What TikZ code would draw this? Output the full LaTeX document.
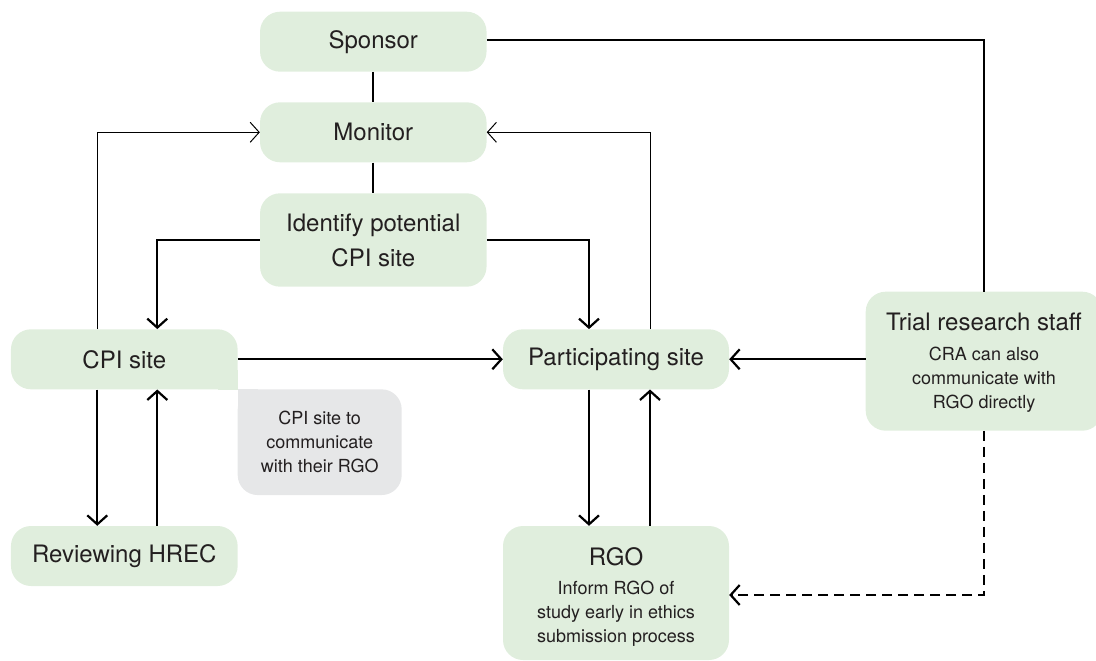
\documentclass[tikz,border=0pt]{standalone}
\usepackage{fontspec}
\setmainfont{TeX Gyre Heros}
\usetikzlibrary{arrows.meta}
\definecolor{boxgreen}{HTML}{E0EEDD}
\definecolor{notegrey}{HTML}{E6E7E8}
\definecolor{ink}{HTML}{231F20}

\begin{document}
\begin{tikzpicture}[x=1pt,y=-1pt,
  box/.style={fill=boxgreen, rounded corners=20pt, inner sep=0pt, text=ink,
              font=\fontsize{24}{35}\selectfont, align=center},
  notebox/.style={fill=notegrey, rounded corners=20pt, inner sep=0pt, text=ink,
              font=\fontsize{18}{24}\selectfont, align=center},
  titletext/.style={text=ink, inner sep=0pt, font=\fontsize{24}{29}\selectfont},
  bodytext/.style={text=ink, inner sep=0pt, align=center, font=\fontsize{18}{24}\selectfont},
  link/.style={draw=black, line width=2.2pt},
  thinlink/.style={draw=black, line width=1pt},
  arr/.style={-{Straight Barb[length=9pt,width=20pt]}},
  dashline/.style={dash pattern=on 10pt off 6pt}
]
\useasboundingbox (0,0) rectangle (1096,661);

% boxes
\node[box, minimum width=226.5pt, minimum height=60pt] (sponsor) at (373.3,41.7) {Sponsor};
\node[box, minimum width=226.5pt, minimum height=60pt] (monitor) at (373.3,132.3) {Monitor};
\node[box, minimum width=226.5pt, minimum height=93.4pt] (identify) at (373.3,240) {Identify potential\\CPI site};
\node[box, minimum width=226.7pt, minimum height=60pt] (cpi) at (124.3,359.3) {CPI site};
\node[box, minimum width=226.7pt, minimum height=60pt] (hrec) at (124.3,556) {Reviewing HREC};
\node[box, minimum width=226pt, minimum height=60pt] (part) at (616,359.3) {Participating site};
\node[box, minimum width=226pt, minimum height=134pt] (rgo) at (616,593) {};
\node[titletext] (rgotitle) at (616,557) {RGO};
\node[bodytext] (rgobody) at (616,614) {Inform RGO of\\study early in ethics\\submission process};
\node[box, minimum width=236.6pt, minimum height=139pt] (trial) at (984,361.2) {};
\node[titletext] (trialtitle) at (984,321.5) {Trial research staff};
\node[bodytext] (trialbody) at (984,380) {CRA can also\\communicate with\\RGO directly};
\node[notebox, minimum width=164pt, minimum height=105.7pt] (note) at (319.7,442.2) {CPI site to\\communicate\\with their RGO};

% square corners where the CPI box meets the note
\fill[boxgreen] (cpi.south east) rectangle ++(-20,-20);
\fill[notegrey] (note.north west) rectangle ++(20,20);

% connectors
\draw[link] (sponsor) -- (monitor);
\draw[link] (monitor) -- (identify);
\draw[link] ([yshift=2pt]sponsor.east) -| (trial.north);
\draw[thinlink, arr] ([xshift=-27pt]cpi.north) |- (monitor.west);
\draw[thinlink, arr] ([xshift=34pt]part.north) |- (monitor.east);
\draw[link, arr] (identify.west) -| ([xshift=33pt]cpi.north);
\draw[link, arr] (identify.east) -| ([xshift=-27pt]part.north);
\draw[link, arr] (cpi.east) -- (cpi.east -| part.west);
\draw[link, arr] (trial.west |- part.east) -- (part.east);
\draw[link, arr] ([xshift=-27pt]cpi.south) -- ([xshift=-27pt]hrec.north);
\draw[link, arr] ([xshift=33pt]hrec.north) -- ([xshift=33pt]cpi.south);
\draw[link, arr] ([xshift=-27pt]part.south) -- ([xshift=-27pt]rgo.north);
\draw[link, arr] ([xshift=34pt]rgo.north) -- ([xshift=34pt]part.south);
\draw[link, arr, dashline] (trial.south) |- ([yshift=-2pt]rgo.east);
\end{tikzpicture}
\end{document}
